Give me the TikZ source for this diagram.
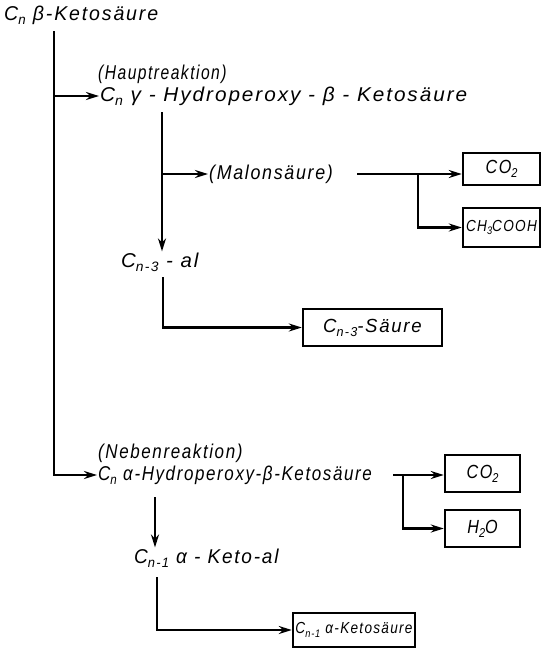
\documentclass[tikz,border=0pt]{standalone}
\usepackage{fontspec}
\setmainfont{Liberation Sans}
\newfontfamily\diagfont[LetterSpace=8,FakeStretch=0.85]{Liberation Sans}
\usetikzlibrary{arrows.meta,calc}
\tikzstyle{txt} = [anchor=west, inner sep=1pt, font=\diagfont\itshape\fontsize{20}{23}\selectfont]
\tikzstyle{box} = [draw, line width=2.4pt, inner sep=0pt, font=\diagfont\itshape\fontsize{19}{22}\selectfont]
\tikzstyle{smallbox} = [box, font=\diagfont\itshape\fontsize{16}{19}\selectfont]
\tikzstyle{line} = [line width=2.8pt]
\tikzstyle{arrow} = [line, -{Stealth[length=13pt,width=8pt]}]
\newcommand{\low}[1]{\raisebox{-0.4ex}{\scalebox{0.68}{#1}}}

\begin{document}
\begin{tikzpicture}[x=1pt, y=-1pt]
    \useasboundingbox (0,0) rectangle (546,648);
    % main reaction
    \node[txt] (keto) at (3,15) {\scalebox{1.15}[1]{C\low{n} β-Ketosäure}};
    \node[txt] (haupt) at (97,74) {\scalebox{0.92}[1]{(Hauptreaktion)}};
    \node[txt] (gammahp) at (99,96) {\scalebox{1.22}[1]{C\low{n} γ - Hydroperoxy - β - Ketosäure}};
    \node[txt] (malon) at (208,174) {\scalebox{1.05}[1]{(Malonsäure)}};
    \node[box, minimum width=77, minimum height=32] (co2a) at (501.5,169) {CO\low{2}};
    \node[smallbox, minimum width=77, minimum height=39] (acetic) at (501.5,227.5) {CH\low{3}COOH};
    \node[txt] (ald3) at (120,262) {\scalebox{1.2}[1]{C\low{n-3} - al}};
    \node[box, minimum width=139, minimum height=37] (acid3) at (372.5,327.5) {\scalebox{1.15}[1]{C\low{n-3}-Säure}};
    % side reaction
    \node[txt] (neben) at (97,453) {(Nebenreaktion)};
    \node[txt] (alphahp) at (97,475) {C\low{n} α-Hydroperoxy-β-Ketosäure};
    \node[box, minimum width=75, minimum height=37] (co2b) at (482.5,473.5) {CO\low{2}};
    \node[box, minimum width=75, minimum height=37] (water) at (482.5,528.5) {H\low{2}O};
    \node[txt] (ketoal) at (133,558) {\scalebox{1.12}[1]{C\low{n-1} α - Keto-al}};
    \node[smallbox, minimum width=122, minimum height=34] (ketoacid) at (354,630) {C\low{n-1} α-Ketosäure};

    \coordinate (trunk) at (54,31);
    \coordinate (g1) at (162,112);
    \coordinate (m1) at (357,174);
    \coordinate (m2) at (418,174);
    \coordinate (a1) at (163,277);
    \coordinate (h1) at (393,475);
    \coordinate (h2) at (403,475);
    \coordinate (h3) at (155,497);
    \coordinate (k1) at (157,577);

    \draw[arrow] (trunk) |- (gammahp.west);
    \draw[arrow] (trunk) |- (alphahp.west);
    \draw[arrow] (g1) -- (g1 |- ald3.north);
    \draw[arrow] (g1 |- malon.west) -- (malon.west);
    \draw[arrow] (m1) -- (m1 -| co2a.west);
    \draw[arrow] (m2) |- (acetic.west);
    \draw[arrow] (a1) |- (acid3.west);
    \draw[arrow] (h1) -- (h1 -| co2b.west);
    \draw[arrow] (h2) |- (water.west);
    \draw[arrow] (h3) -- (h3 |- ketoal.north);
    \draw[arrow] (k1) |- (ketoacid.west);
\end{tikzpicture}
\end{document}
